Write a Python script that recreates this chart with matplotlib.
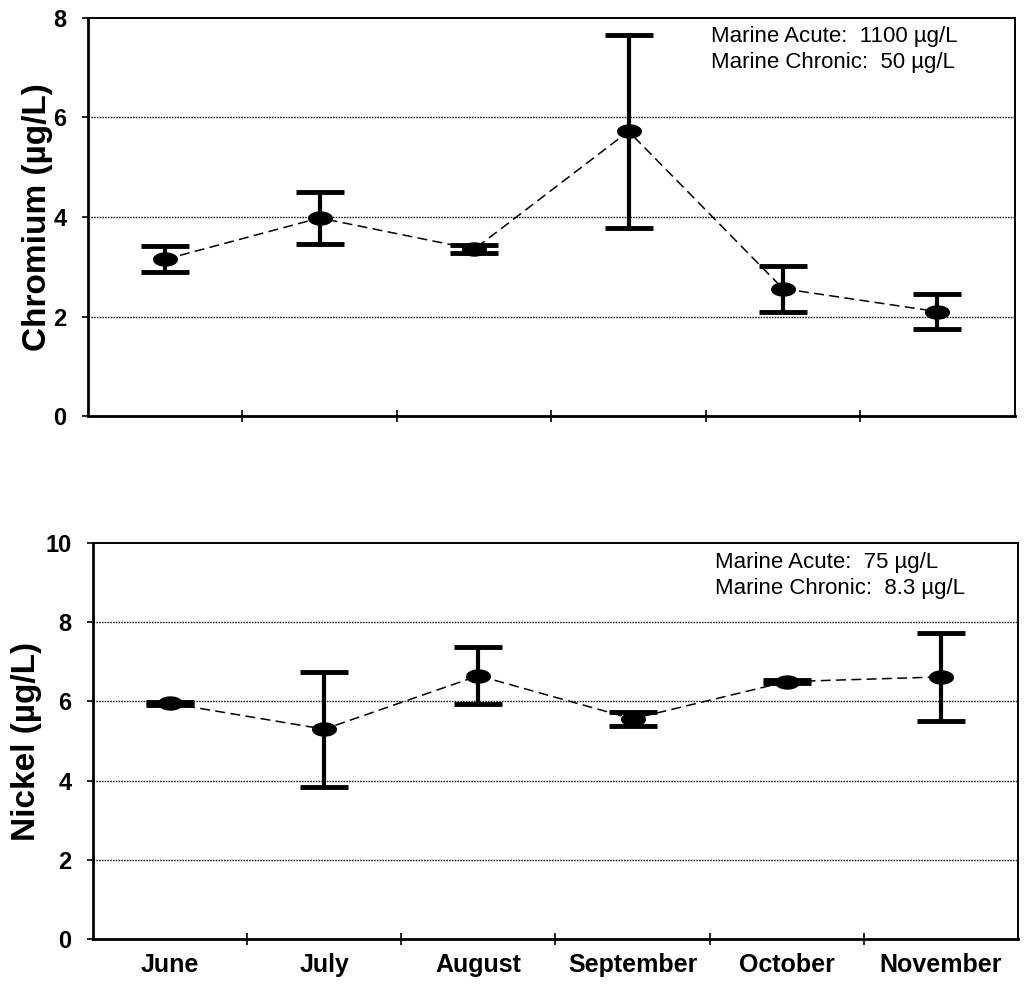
import numpy as np
import matplotlib
matplotlib.use("Agg")
import matplotlib.pyplot as plt
from matplotlib.path import Path
from matplotlib.ticker import FixedLocator

months = ['June', 'July', 'August', 'September', 'October', 'November']
cr_mean = [3.15, 3.98, 3.35, 5.72, 2.56, 2.10]
cr_err = [0.26, 0.53, 0.08, 1.94, 0.46, 0.35]
ni_mean = [5.95, 5.30, 6.65, 5.56, 6.50, 6.62]
ni_err = [0.03, 1.45, 0.72, 0.18, 0.03, 1.12]
cr_text = "Marine Acute:  1100 \u00b5g/L\nMarine Chronic:  50 \u00b5g/L"
ni_text = "Marine Acute:  75 \u00b5g/L\nMarine Chronic:  8.3 \u00b5g/L"

plt.rcParams['font.family'] = ['Liberation Sans', 'DejaVu Sans']

# ellipse marker
t = np.linspace(0, 2 * np.pi, 60)
verts = np.column_stack([np.cos(t), 0.55 * np.sin(t)])
ellipse = Path(verts, closed=True)

fig = plt.figure(figsize=(10.30, 9.84), dpi=100)
ax1 = fig.add_axes([0.0854, 0.577, 0.8997, 0.405])
ax2 = fig.add_axes([0.0903, 0.0457, 0.8980, 0.4024])


def draw(ax, mean, err, ymax, ylabel, note, show_labels):
    x = np.arange(len(months))
    ax.errorbar(x, mean, yerr=err, fmt='none', ecolor='black',
                elinewidth=3.0, capsize=17.5, capthick=3.5, zorder=3)
    ax.plot(x, mean, color='black', lw=1.1, dashes=(6.5, 3.5), zorder=2)
    ax.plot(x, mean, linestyle='none', marker=ellipse, markersize=17,
            color='black', zorder=4)
    ax.set_xlim(-0.5, len(months) - 0.5)
    ax.set_ylim(0, ymax)
    ax.set_yticks(np.arange(0, ymax + 0.1, 2))
    for yv in np.arange(2, ymax, 2):
        ax.axhline(yv, color='#222222', lw=1.0, linestyle=(0, (1.2, 0.8)),
                   zorder=1)
    ax.set_xticks(x)
    ax.xaxis.set_minor_locator(FixedLocator(np.arange(0.5, len(months) - 0.5, 1)))
    ax.tick_params(axis='x', which='major', length=0, pad=10)
    ax.tick_params(axis='x', which='minor', direction='inout', length=9,
                   width=1.2)
    ax.tick_params(axis='y', which='major', direction='out', length=4.5,
                   width=1.2, pad=11, labelsize=17)
    for lab in ax.get_yticklabels():
        lab.set_fontweight('bold')
    if show_labels:
        ax.set_xticklabels(months, fontsize=18, fontweight='bold')
    else:
        ax.set_xticklabels([])
    ax.set_ylabel(ylabel, fontsize=24, fontweight='bold')
    for s in ['left', 'bottom']:
        ax.spines[s].set_linewidth(2.0)
    for s in ['top', 'right']:
        ax.spines[s].set_linewidth(1.4)
    ax.text(0.672, 0.978, note, transform=ax.transAxes, fontsize=16,
            ha='left', va='top', linespacing=1.3)


draw(ax1, cr_mean, cr_err, 8, 'Chromium (\u00b5g/L)', cr_text, False)
draw(ax2, ni_mean, ni_err, 10, 'Nickel (\u00b5g/L)', ni_text, True)
ax1.yaxis.set_label_coords(-0.038, 0.5)
ax2.yaxis.set_label_coords(-0.055, 0.5)

fig.savefig('out.png', dpi=100)
